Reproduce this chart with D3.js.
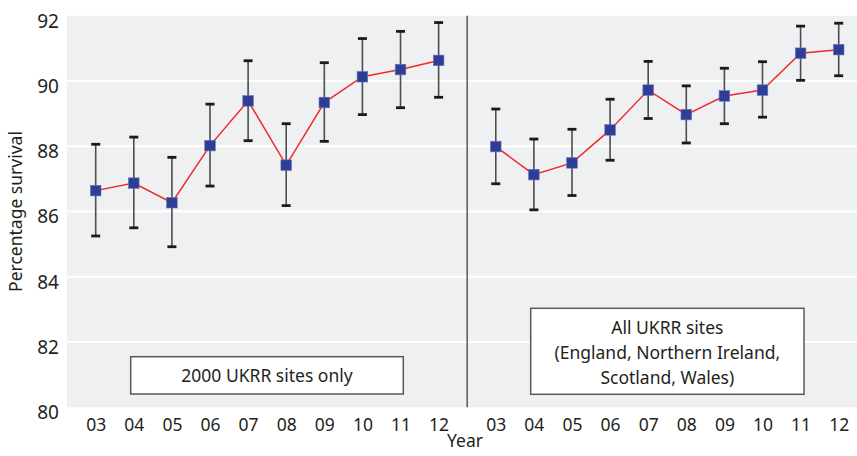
<!DOCTYPE html>
<html>
<head>
<meta charset="utf-8">
<script src="https://cdn.jsdelivr.net/npm/d3@7/dist/d3.min.js"></script>
<style>
  html, body { margin: 0; padding: 0; background: #fff; }
  svg { display: block; }
  text { font-family: "Noto Sans", "Open Sans", sans-serif; fill: #231f20; }
</style>
</head>
<body>
<svg id="chart" width="857" height="456"></svg>
<script>
// Year labels (shared by both panels)
const years = ["03", "04", "05", "06", "07", "08", "09", "10", "11", "12"];

// Panel 1: 2000 UKRR sites only — survival (%) with 95% CI
const sites2000 = [86.64, 86.87, 86.27, 88.02, 89.39, 87.42, 89.34, 90.13, 90.35, 90.63];
const sites2000Low = [85.25, 85.50, 84.92, 86.78, 88.17, 86.18, 88.15, 88.97, 89.18, 89.50];
const sites2000High = [88.06, 88.28, 87.66, 89.29, 90.62, 88.69, 90.56, 91.30, 91.52, 91.79];

// Panel 2: all UKRR sites
const allSites = [87.99, 87.13, 87.49, 88.50, 89.72, 88.97, 89.54, 89.72, 90.85, 90.96];
const allSitesLow = [86.85, 86.05, 86.49, 87.57, 88.85, 88.10, 88.69, 88.89, 90.02, 90.16];
const allSitesHigh = [89.14, 88.22, 88.52, 89.44, 90.60, 89.85, 90.39, 90.59, 91.68, 91.77];

const yTicks = [80, 82, 84, 86, 88, 90, 92];
const panelLabels = [["2000 UKRR sites only"], ["All UKRR sites", "(England, Northern Ireland,", "Scotland, Wales)"]];

const svg = d3.select("#chart");
const plot = { left: 67, right: 857, top: 15.7, bottom: 407.3 };
const panelGap = 10.5; // position offset of the second panel

const y = d3.scaleLinear().domain([80, 92]).range([plot.bottom, plot.top]);
const x = d3.scaleLinear().domain([0, 19.5]).range([95.7, 838.7]);

// Background
svg.append("rect")
  .attr("x", plot.left).attr("y", plot.top)
  .attr("width", plot.right - plot.left).attr("height", plot.bottom - plot.top)
  .attr("fill", "#eff0f2");

// Horizontal gridlines
svg.append("g").selectAll("line")
  .data(yTicks.filter(t => t > 80 && t < 92))
  .join("line")
  .attr("x1", plot.left).attr("x2", plot.right)
  .attr("y1", d => y(d)).attr("y2", d => y(d))
  .attr("stroke", "#fff").attr("stroke-width", 2);

// Y axis labels
const yAxis = d3.axisLeft(y).tickValues(yTicks).tickSize(0).tickPadding(8);
const yG = svg.append("g").attr("transform", `translate(${plot.left},0)`).call(yAxis);
yG.select(".domain").remove();
yG.selectAll("text")
  .attr("font-size", 19).attr("dy", "0.6em").attr("fill", "#231f20")
  .style("font-family", "'Noto Sans', sans-serif");

// X axis labels
const positions = years.map((_, i) => i).concat(years.map((_, i) => i + panelGap));
const xAxis = d3.axisBottom(x).tickValues(positions)
  .tickFormat(p => years[Math.round(p >= panelGap ? p - panelGap : p)])
  .tickSize(0).tickPadding(0);
const xG = svg.append("g").attr("transform", `translate(0,${plot.bottom})`).call(xAxis);
xG.select(".domain").remove();
xG.selectAll("text")
  .attr("font-size", 17.5).attr("y", 23.4).attr("dy", 0).attr("fill", "#231f20")
  .style("font-family", "'Noto Sans', sans-serif");

// Panel separator
const sepX = x(9.75);
svg.append("line")
  .attr("x1", sepX).attr("x2", sepX)
  .attr("y1", plot.top).attr("y2", plot.bottom)
  .attr("stroke", "#58595b").attr("stroke-width", 1.5);

// Axis titles
svg.append("text")
  .attr("transform", `translate(22,${(plot.top + plot.bottom) / 2}) rotate(-90)`)
  .attr("text-anchor", "middle").attr("font-size", 17.5)
  .text("Percentage survival");
svg.append("text")
  .attr("x", 465).attr("y", 447)
  .attr("text-anchor", "middle").attr("font-size", 17.5)
  .text("Year");

// Annotation boxes
const boxes = [
  { x0: 130.7, x1: 403.3, y0: 356.7, y1: 394, lines: panelLabels[0], base: 381.5 },
  { x0: 530.7, x1: 804, y0: 308.3, y1: 394.3, lines: panelLabels[1], base: 334 }
];
boxes.forEach(b => {
  svg.append("rect")
    .attr("x", b.x0).attr("y", b.y0)
    .attr("width", b.x1 - b.x0).attr("height", b.y1 - b.y0)
    .attr("fill", "#fff").attr("stroke", "#58595b").attr("stroke-width", 1.5);
  svg.append("text")
    .attr("text-anchor", "middle").attr("font-size", 17.5)
    .selectAll("tspan").data(b.lines).join("tspan")
    .attr("x", (b.x0 + b.x1) / 2)
    .attr("y", (d, i) => b.base + i * 25)
    .text(d => d);
});

// Series
const series = [
  { offset: 0, vals: sites2000, lo: sites2000Low, hi: sites2000High },
  { offset: panelGap, vals: allSites, lo: allSitesLow, hi: allSitesHigh }
];
series.forEach(s => {
  const pts = s.vals.map((v, i) => ({ p: i + s.offset, v, lo: s.lo[i], hi: s.hi[i] }));
  const g = svg.append("g");
  // Error bars
  g.selectAll("line.bar").data(pts).join("line").attr("class", "bar")
    .attr("x1", d => x(d.p)).attr("x2", d => x(d.p))
    .attr("y1", d => y(d.lo)).attr("y2", d => y(d.hi))
    .attr("stroke", "#4d4d4f").attr("stroke-width", 1.6);
  ["lo", "hi"].forEach(k => {
    g.selectAll("line.cap-" + k).data(pts).join("line").attr("class", "cap-" + k)
      .attr("x1", d => x(d.p) - 4.5).attr("x2", d => x(d.p) + 4.5)
      .attr("y1", d => y(d[k])).attr("y2", d => y(d[k]))
      .attr("stroke", "#1a1a1a").attr("stroke-width", 2.8);
  });
  // Connecting line
  g.append("path").datum(pts)
    .attr("d", d3.line().x(d => x(d.p)).y(d => y(d.v)))
    .attr("fill", "none").attr("stroke", "#ee2a2e").attr("stroke-width", 1.5);
  // Markers
  g.selectAll("rect.marker").data(pts).join("rect").attr("class", "marker")
    .attr("x", d => x(d.p) - 5.3).attr("y", d => y(d.v) - 5.3)
    .attr("width", 10.6).attr("height", 10.6)
    .attr("fill", "#2e3e96").attr("stroke", "#6877b8").attr("stroke-width", 0.6);
});
</script>
</body>
</html>
